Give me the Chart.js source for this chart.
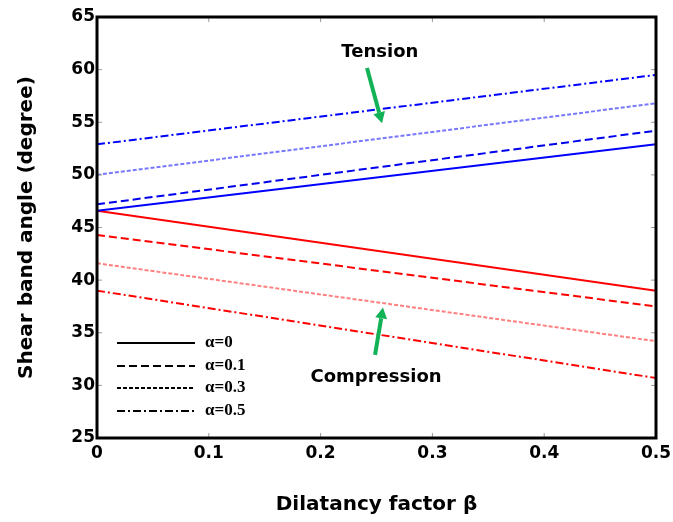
<!DOCTYPE html>
<html>
<head>
<meta charset="utf-8">
<script src="https://cdn.jsdelivr.net/npm/chart.js@4.4.1/dist/chart.umd.min.js"></script>
<style>
  html, body { margin: 0; padding: 0; background: #fff; }
  #wrap { width: 673px; height: 522px; }
</style>
</head>
<body>
<div id="wrap"><canvas id="shearChart" width="673" height="522"></canvas></div>
<script>
// Data
const betaValues = [0, 0.5];
const alphaLabels = ['α=0', 'α=0.1', 'α=0.3', 'α=0.5'];
const tensionAngles = [
    [46.6, 52.9],
    [47.2, 54.2],
    [50.0, 56.8],
    [52.9, 59.5]
];
const compressionAngles = [
    [46.6, 39.0],
    [44.3, 37.5],
    [41.6, 34.2],
    [39.0, 30.7]
];
const yTickValues = [25, 30, 35, 40, 45, 50, 55, 60, 65];
const xTickValues = [0, 0.1, 0.2, 0.3, 0.4, 0.5];

// line styles per alpha
const dashes = [[], [8, 4], [4, 2], [8, 3, 2, 3]];
const blueColors = ['#0000ff', '#0000ee', '#7878ff', '#0000ff'];
const redColors = ['#ff0000', '#ff0000', '#ff8080', '#ff0000'];

function makeSet(vals, color, dash) {
    return {
        data: betaValues.map((b, i) => ({x: b, y: vals[i]})),
        borderColor: color,
        borderWidth: 2,
        borderDash: dash,
        showLine: true,
        pointRadius: 0,
        fill: false
    };
}

const datasets = [];
tensionAngles.forEach((v, i) => datasets.push(makeSet(v, blueColors[i], dashes[i])));
compressionAngles.forEach((v, i) => datasets.push(makeSet(v, redColors[i], dashes[i])));

// frame, inward ticks, legend and annotations
const decorPlugin = {
    id: 'decor',
    afterDraw(chart) {
        const ctx = chart.ctx;
        const a = chart.chartArea;
        const xs = chart.scales.x, ys = chart.scales.y;
        ctx.save();

        // small inward ticks
        ctx.strokeStyle = '#999';
        ctx.lineWidth = 1;
        yTickValues.forEach(v => {
            const py = ys.getPixelForValue(v);
            ctx.beginPath();
            ctx.moveTo(a.left, py); ctx.lineTo(a.left + 5, py);
            ctx.moveTo(a.right, py); ctx.lineTo(a.right - 5, py);
            ctx.stroke();
        });
        xTickValues.forEach(v => {
            const px = xs.getPixelForValue(v);
            ctx.beginPath();
            ctx.moveTo(px, a.top); ctx.lineTo(px, a.top + 5);
            ctx.moveTo(px, a.bottom); ctx.lineTo(px, a.bottom - 5);
            ctx.stroke();
        });

        // frame
        ctx.strokeStyle = '#000';
        ctx.lineWidth = 3;
        ctx.strokeRect(a.left, a.top, a.right - a.left, a.bottom - a.top);

        // legend
        ctx.font = 'bold 17px "Liberation Serif", "DejaVu Serif", serif';
        ctx.textBaseline = 'middle';
        ctx.fillStyle = '#000';
        const legY = [343, 366, 388, 411];
        alphaLabels.forEach((lab, i) => {
            ctx.strokeStyle = '#000';
            ctx.lineWidth = 2;
            ctx.setLineDash(dashes[i]);
            ctx.beginPath();
            ctx.moveTo(a.left + 20, legY[i]);
            ctx.lineTo(a.left + 98, legY[i]);
            ctx.stroke();
            ctx.setLineDash([]);
            ctx.fillText(lab, a.left + 108, legY[i]);
        });

        // annotations
        ctx.font = 'bold 18px "DejaVu Sans", sans-serif';
        ctx.textAlign = 'center';
        ctx.fillText('Tension', xs.getPixelForValue(0.253), ys.getPixelForValue(61.6));
        ctx.fillText('Compression', xs.getPixelForValue(0.2496), ys.getPixelForValue(30.8));

        function arrow(x0, y0, x1, y1) {
            const p0 = [xs.getPixelForValue(x0), ys.getPixelForValue(y0)];
            const p1 = [xs.getPixelForValue(x1), ys.getPixelForValue(y1)];
            const ang = Math.atan2(p1[1] - p0[1], p1[0] - p0[0]);
            const head = 11;
            ctx.strokeStyle = '#12b257';
            ctx.fillStyle = '#12b257';
            ctx.lineWidth = 4;
            ctx.beginPath();
            ctx.moveTo(p0[0], p0[1]);
            ctx.lineTo(p1[0] - head * Math.cos(ang), p1[1] - head * Math.sin(ang));
            ctx.stroke();
            ctx.beginPath();
            ctx.moveTo(p1[0], p1[1]);
            ctx.lineTo(p1[0] - head * Math.cos(ang) + 6 * Math.sin(ang), p1[1] - head * Math.sin(ang) - 6 * Math.cos(ang));
            ctx.lineTo(p1[0] - head * Math.cos(ang) - 6 * Math.sin(ang), p1[1] - head * Math.sin(ang) + 6 * Math.cos(ang));
            ctx.closePath();
            ctx.fill();
        }
        arrow(0.2415, 60.15, 0.255, 54.9);
        arrow(0.2487, 32.9, 0.2558, 37.4);

        ctx.restore();
    }
};

const tickFont = {family: '"DejaVu Sans", sans-serif', size: 17, weight: 'bold'};
const titleFont = {family: '"DejaVu Sans", sans-serif', size: 20, weight: 'bold'};

const ctx = document.getElementById('shearChart').getContext('2d');
const shearChart = new Chart(ctx, {
    type: 'scatter',
    data: {datasets: datasets},
    plugins: [decorPlugin],
    options: {
        responsive: false,
        animation: false,
        layout: {padding: {left: 0, right: 17, top: 17, bottom: 0}},
        plugins: {
            legend: {display: false},
            tooltip: {enabled: false}
        },
        scales: {
            x: {
                type: 'linear',
                min: 0,
                max: 0.5,
                afterBuildTicks: function(scale) {
                    scale.ticks = xTickValues.map(v => ({value: v}));
                },
                afterFit: function(scale) {
                    scale.height = 84;
                    scale.paddingLeft = 0;
                    scale.paddingRight = 0;
                },
                grid: {display: false, drawTicks: false},
                border: {display: false},
                ticks: {
                    color: '#000',
                    font: tickFont,
                    padding: 5,
                    maxRotation: 0,
                    callback: v => v === 0 ? '0' : v.toFixed(1)
                },
                title: {
                    display: true,
                    text: 'Dilatancy factor β',
                    color: '#000',
                    font: titleFont,
                    padding: {top: 4, bottom: 5}
                }
            },
            y: {
                min: 25,
                max: 65,
                afterBuildTicks: function(scale) {
                    scale.ticks = yTickValues.map(v => ({value: v}));
                },
                afterFit: function(scale) {
                    scale.width = 97;
                    scale.paddingTop = 0;
                    scale.paddingBottom = 0;
                },
                grid: {display: false, drawTicks: false},
                border: {display: false},
                ticks: {
                    color: '#000',
                    font: tickFont,
                    padding: 2
                },
                title: {
                    display: true,
                    text: 'Shear band angle (degree)',
                    color: '#000',
                    font: titleFont,
                    padding: {top: 15, bottom: 0}
                }
            }
        }
    }
});
</script>
</body>
</html>
